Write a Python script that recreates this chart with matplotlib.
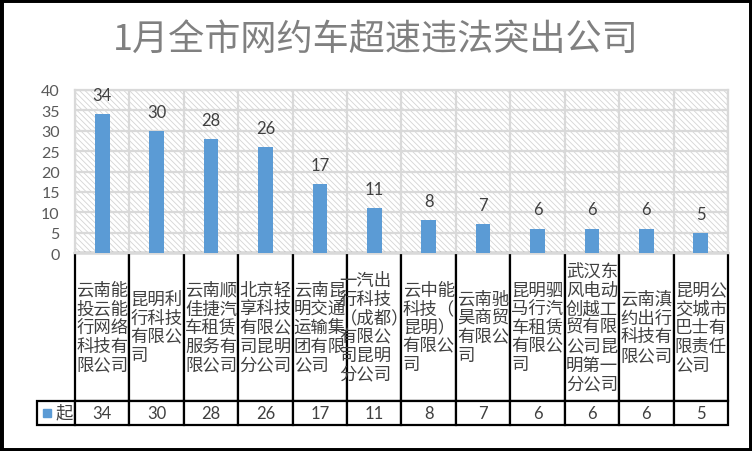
import matplotlib
matplotlib.use('Agg')
import matplotlib.pyplot as plt
from matplotlib.patches import Rectangle

plt.rcParams['font.family'] = ['Noto Sans CJK SC', 'DejaVu Sans']
plt.rcParams['hatch.linewidth'] = 0.6

title = '1月全市网约车超速违法突出公司'
# company names, wrapped as in the source table
companies = [
    '云南能\n投云能\n行网络\n科技有\n限公司',
    '昆明利\n行科技\n有限公\n司',
    '云南顺\n佳捷汽\n车租赁\n服务有\n限公司',
    '北京轻\n享科技\n有限公\n司昆明\n分公司',
    '云南昆\n明交通\n运输集\n团有限\n公司',
    '一汽出\n行科技\n（成都）\n有限公\n司昆明\n分公司',
    '云中能\n科技（\n昆明）\n有限公\n司',
    '云南驰\n昊商贸\n有限公\n司',
    '昆明驷\n马行汽\n车租赁\n有限公\n司',
    '武汉东\n风电动\n创越工\n贸有限\n公司昆\n明第一\n分公司',
    '云南滇\n约出行\n科技有\n限公司',
    '昆明公\n交城市\n巴士有\n限责任\n公司',
]
counts = [34, 30, 28, 26, 17, 11, 8, 7, 6, 6, 6, 5]
series = '起'
yticks = [0, 5, 10, 15, 20, 25, 30, 35, 40]

W, H = 752, 452
blue = '#5b9bd5'
grid_c = '#d9d9d9'
txt_c = '#404040'
num_font = ['Lato', 'DejaVu Sans']

fig = plt.figure(figsize=(W / 100, H / 100), dpi=100)
fig.text(0.5, 1 - 40 / H, title, ha='center', va='center', fontsize=26, color='#808080')

# plot area in pixel units of the reference
left, right, top, bottom = 75, 728, 91, 254
ax = fig.add_axes([left / W, 1 - bottom / H, (right - left) / W, (bottom - top) / H])

x = list(range(len(counts)))
bars = ax.bar(x, counts, width=0.27, color=blue, zorder=3)
ax.bar_label(bars, padding=8, fontsize=12, color=txt_c, family=num_font)

ax.set_xlim(-0.5, len(counts) - 0.5)
ax.set_ylim(0, 40)
ax.set_yticks(yticks)
ax.set_xticks([])
ax.set_xticks([i + 0.5 for i in range(-1, len(counts))], minor=True)
ax.set_axisbelow(True)
ax.grid(axis='y', color=grid_c, lw=1.6)
ax.grid(axis='x', which='minor', color=grid_c, lw=1.6)
ax.tick_params(axis='y', length=0, pad=11, labelsize=11.5, labelcolor='#595959')
ax.tick_params(axis='x', which='both', length=0)
for lab in ax.get_yticklabels():
    lab.set_family(num_font)
for s in ax.spines.values():
    s.set_color(grid_c)
    s.set_linewidth(1.6)

# hatched background
ax.add_patch(Rectangle((0, 0), 1, 1, transform=ax.transAxes, facecolor='white',
                       edgecolor='#d4d4d4', hatch='\\\\\\\\\\\\', lw=0, zorder=0))

# data table under the chart
leg_left = 37
tab_bottom = 426
row0_h, row1_h = 148, 24
cell_text = [[''] + companies, [''] + [str(c) for c in counts]]
ph = bottom - top
tab = ax.table(cellText=cell_text, cellLoc='center',
               colWidths=[(left - leg_left)] + [(right - left) / len(counts)] * len(counts),
               bbox=[(leg_left - left) / (right - left), (bottom - tab_bottom) / ph,
                     (right - leg_left) / (right - left), (tab_bottom - bottom) / ph])
tab.auto_set_font_size(False)
for (r, c), cell in tab.get_celld().items():
    cell.set_height(row0_h if r == 0 else row1_h)
    cell.set_linewidth(1.6)
    cell.set_edgecolor('black')
    t = cell.get_text()
    t.set_color(txt_c)
    if r == 0:
        t.set_fontsize(12.5)
        t.set_multialignment('left')
        t.set_linespacing(1.05)
    else:
        t.set_fontsize(12)
        t.set_family(num_font)
tab[(0, 0)].visible_edges = 'open'

# legend key inside the table
fig.add_artist(Rectangle((43 / W, 1 - 418 / H), 8 / W, 8 / H, transform=fig.transFigure,
                         color=blue))
fig.text(64 / W, 1 - 413 / H, series, ha='center', va='center', fontsize=12.5, color=txt_c)

# outer frame
fig.add_artist(Rectangle((0, 0), 1, 1, transform=fig.transFigure, fill=False,
                         edgecolor='black', lw=5))

fig.savefig('out.png', dpi=100)
